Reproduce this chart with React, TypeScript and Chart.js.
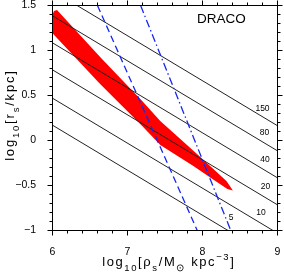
import React, { useEffect, useRef } from "react";
import { Chart, registerables } from "chart.js";

Chart.register(...registerables);

const FONT = "'Liberation Sans', Arial, Helvetica, sans-serif";

// Axis ranges and tick steps
const xRange = [6, 9];
const yRange = [-1, 1.5];
const xMajorStep = 1;
const yMajorStep = 0.5;
const xMinorStep = 0.2;
const yMinorStep = 0.1;

// Black lines of constant velocity (log rs = C - 0.5 log rho), clipped endpoints
const velocityLabels = ["5", "10", "20", "40", "80", "150"];
const velocityStartX = [6, 6, 6, 6, 6, 6.328];
const velocityStartY = [0.17, 0.47, 0.785, 1.085, 1.385, 1.5];
const velocityEndX = [8.34, 8.94, 9, 9, 9, 9];
const velocityEndY = [-1, -1, -0.715, -0.415, -0.115, 0.164];
const velocityLabelX = [8.383, 8.78, 8.84, 8.834, 8.827, 8.8];
const velocityLabelY = [-0.855, -0.807, -0.509, -0.208, 0.088, 0.356];

// Red allowed region (polygon outline)
const bandX = [6.0, 6.02, 6.06, 6.635, 7.196, 7.437, 7.971, 8.319, 8.385, 8.405, 8.332, 8.172, 7.878, 7.437, 7.196, 6.635, 6.0];
const bandY = [1.4, 1.44, 1.45, 0.928, 0.439, 0.217, -0.183, -0.45, -0.53, -0.555, -0.539, -0.45, -0.283, -0.05, 0.161, 0.628, 1.191];

// Blue lines
const dashedX = [6.6, 7.93];
const dashedY = [1.5, -1];
const dashDotX = [7.175, 8.377];
const dashDotY = [1.5, -1];

const galaxyName = "DRACO";
const galaxyNameX = 8.252;
const galaxyNameY = 1.344;

type Seg = { t: string; s: number; dy: number };

const xTitle: Seg[] = [
  { t: "log", s: 13, dy: 0 },
  { t: "10", s: 9.5, dy: 5 },
  { t: "[ρ", s: 13, dy: 0 },
  { t: "s", s: 9.5, dy: 5 },
  { t: "/M", s: 13, dy: 0 },
  { t: "⊙", s: 9.5, dy: 5 },
  { t: " kpc", s: 13, dy: 0 },
  { t: "−3", s: 9.5, dy: -6.5 },
  { t: "]", s: 13, dy: 0 },
];

const yTitle: Seg[] = [
  { t: "log", s: 13, dy: 0 },
  { t: "10", s: 9.5, dy: 5 },
  { t: "[r", s: 13, dy: 0 },
  { t: "s", s: 9.5, dy: 5 },
  { t: "/kpc]", s: 13, dy: 0 },
];

function drawRich(ctx: CanvasRenderingContext2D, segs: Seg[], cx: number, cy: number, rot: number, spacing: number) {
  ctx.save();
  ctx.translate(cx, cy);
  if (rot) ctx.rotate(rot);
  ctx.textAlign = "left";
  ctx.textBaseline = "alphabetic";
  ctx.fillStyle = "#000";
  let total = 0;
  for (const sg of segs) {
    ctx.font = `${sg.s}px ${FONT}`;
    for (const ch of Array.from(sg.t)) total += ctx.measureText(ch).width + spacing;
  }
  total -= spacing;
  let x = -total / 2;
  for (const sg of segs) {
    ctx.font = `${sg.s}px ${FONT}`;
    for (const ch of Array.from(sg.t)) {
      ctx.fillText(ch, x, sg.dy);
      x += ctx.measureText(ch).width + spacing;
    }
  }
  ctx.restore();
}

const decorPlugin = {
  id: "decor",
  afterDraw(chart: any) {
    const { ctx, chartArea: a, scales } = chart;
    const xs = scales.x;
    const ys = scales.y;
    ctx.save();
    ctx.strokeStyle = "#000";
    ctx.lineWidth = 1;
    ctx.strokeRect(a.left, a.top, a.right - a.left, a.bottom - a.top);
    ctx.beginPath();
    const nx = Math.round((xRange[1] - xRange[0]) / xMinorStep);
    for (let i = 0; i <= nx; i++) {
      const v = xRange[0] + i * xMinorStep;
      const r = v / xMajorStep;
      const major = Math.abs(r - Math.round(r)) < 1e-6;
      const len = major ? 5 : 3;
      const p = Math.round(xs.getPixelForValue(v) - 0.5) + 0.5;
      ctx.moveTo(p, a.bottom);
      ctx.lineTo(p, a.bottom + len);
      ctx.moveTo(p, a.top);
      ctx.lineTo(p, a.top - len);
    }
    const ny = Math.round((yRange[1] - yRange[0]) / yMinorStep);
    for (let i = 0; i <= ny; i++) {
      const v = yRange[0] + i * yMinorStep;
      const r = v / yMajorStep;
      const major = Math.abs(r - Math.round(r)) < 1e-6;
      const len = major ? 5 : 3;
      const p = Math.round(ys.getPixelForValue(v) - 0.5) + 0.5;
      ctx.moveTo(a.left, p);
      ctx.lineTo(a.left - len, p);
      ctx.moveTo(a.right, p);
      ctx.lineTo(a.right + len, p);
    }
    ctx.stroke();

    // velocity labels
    ctx.fillStyle = "#000";
    ctx.textAlign = "center";
    ctx.textBaseline = "middle";
    ctx.font = `8.5px ${FONT}`;
    velocityLabels.forEach((lab, i) => {
      ctx.fillText(lab, xs.getPixelForValue(velocityLabelX[i]), ys.getPixelForValue(velocityLabelY[i]));
    });

    // galaxy name
    ctx.font = `13.5px ${FONT}`;
    ctx.fillText(galaxyName, xs.getPixelForValue(galaxyNameX), ys.getPixelForValue(galaxyNameY));

    // axis titles
    drawRich(ctx, xTitle, (a.left + a.right) / 2 + 3, chart.height - 7, 0, 1.6);
    drawRich(ctx, yTitle, 13.5, (a.top + a.bottom) / 2 - 2, -Math.PI / 2, 1.8);
    ctx.restore();
  },
};

function pts(xs: number[], ys: number[]) {
  return xs.map((x, i) => ({ x, y: ys[i] }));
}

export default function App() {
  const ref = useRef<HTMLCanvasElement | null>(null);
  useEffect(() => {
    if (!ref.current) return;
    const datasets: any[] = [];
    datasets.push({
      data: pts(bandX, bandY),
      backgroundColor: "#ff0000",
      borderColor: "#ff0000",
      borderWidth: 0,
      pointRadius: 0,
      fill: "shape",
      tension: 0,
      order: 10,
    });
    velocityLabels.forEach((_, i) => {
      datasets.push({
        data: pts([velocityStartX[i], velocityEndX[i]], [velocityStartY[i], velocityEndY[i]]),
        borderColor: "#222",
        borderWidth: 1,
        pointRadius: 0,
        fill: false,
        order: 2,
      });
    });
    datasets.push({
      data: pts(dashedX, dashedY),
      borderColor: "rgb(20,40,240)",
      borderWidth: 1.3,
      borderDash: [7, 4],
      pointRadius: 0,
      fill: false,
      order: 1,
    });
    datasets.push({
      data: pts(dashDotX, dashDotY),
      borderColor: "rgb(20,40,240)",
      borderWidth: 1.3,
      borderDash: [8, 3, 1.5, 3],
      pointRadius: 0,
      fill: false,
      order: 1,
    });

    const chart = new Chart(ref.current, {
      type: "line",
      data: { datasets },
      options: {
        responsive: false,
        animation: false,
        events: [],
        layout: { padding: { left: 0, right: 6.5, top: 5.5, bottom: 0 } },
        plugins: { legend: { display: false }, tooltip: { enabled: false } },
        scales: {
          x: {
            type: "linear",
            min: xRange[0],
            max: xRange[1],
            grid: { display: false },
            border: { display: false },
            ticks: {
              stepSize: xMajorStep,
              autoSkip: false,
              maxRotation: 0,
              padding: 7,
              color: "#000",
              font: { family: FONT, size: 10.5 },
              callback: (v: any) => String(v),
            },
            afterFit: (s: any) => {
              s.height = 42.5;
              s.paddingLeft = 0;
              s.paddingRight = 0;
            },
          },
          y: {
            type: "linear",
            min: yRange[0],
            max: yRange[1],
            grid: { display: false },
            border: { display: false },
            ticks: {
              stepSize: yMajorStep,
              autoSkip: false,
              padding: 8.5,
              color: "#000",
              font: { family: FONT, size: 10.5 },
              callback: (v: any) => (v < 0 ? "−" + Math.abs(v) : String(v)),
            },
            afterFit: (s: any) => {
              s.width = 52.5;
              s.paddingTop = 0;
              s.paddingBottom = 0;
            },
          },
        },
      },
      plugins: [decorPlugin],
    });
    return () => chart.destroy();
  }, []);
  return (
    <div style={{ position: "absolute", left: 0, top: 0, width: 284, height: 273, background: "#fff" }}>
      <canvas ref={ref} width={284} height={273} />
    </div>
  );
}
